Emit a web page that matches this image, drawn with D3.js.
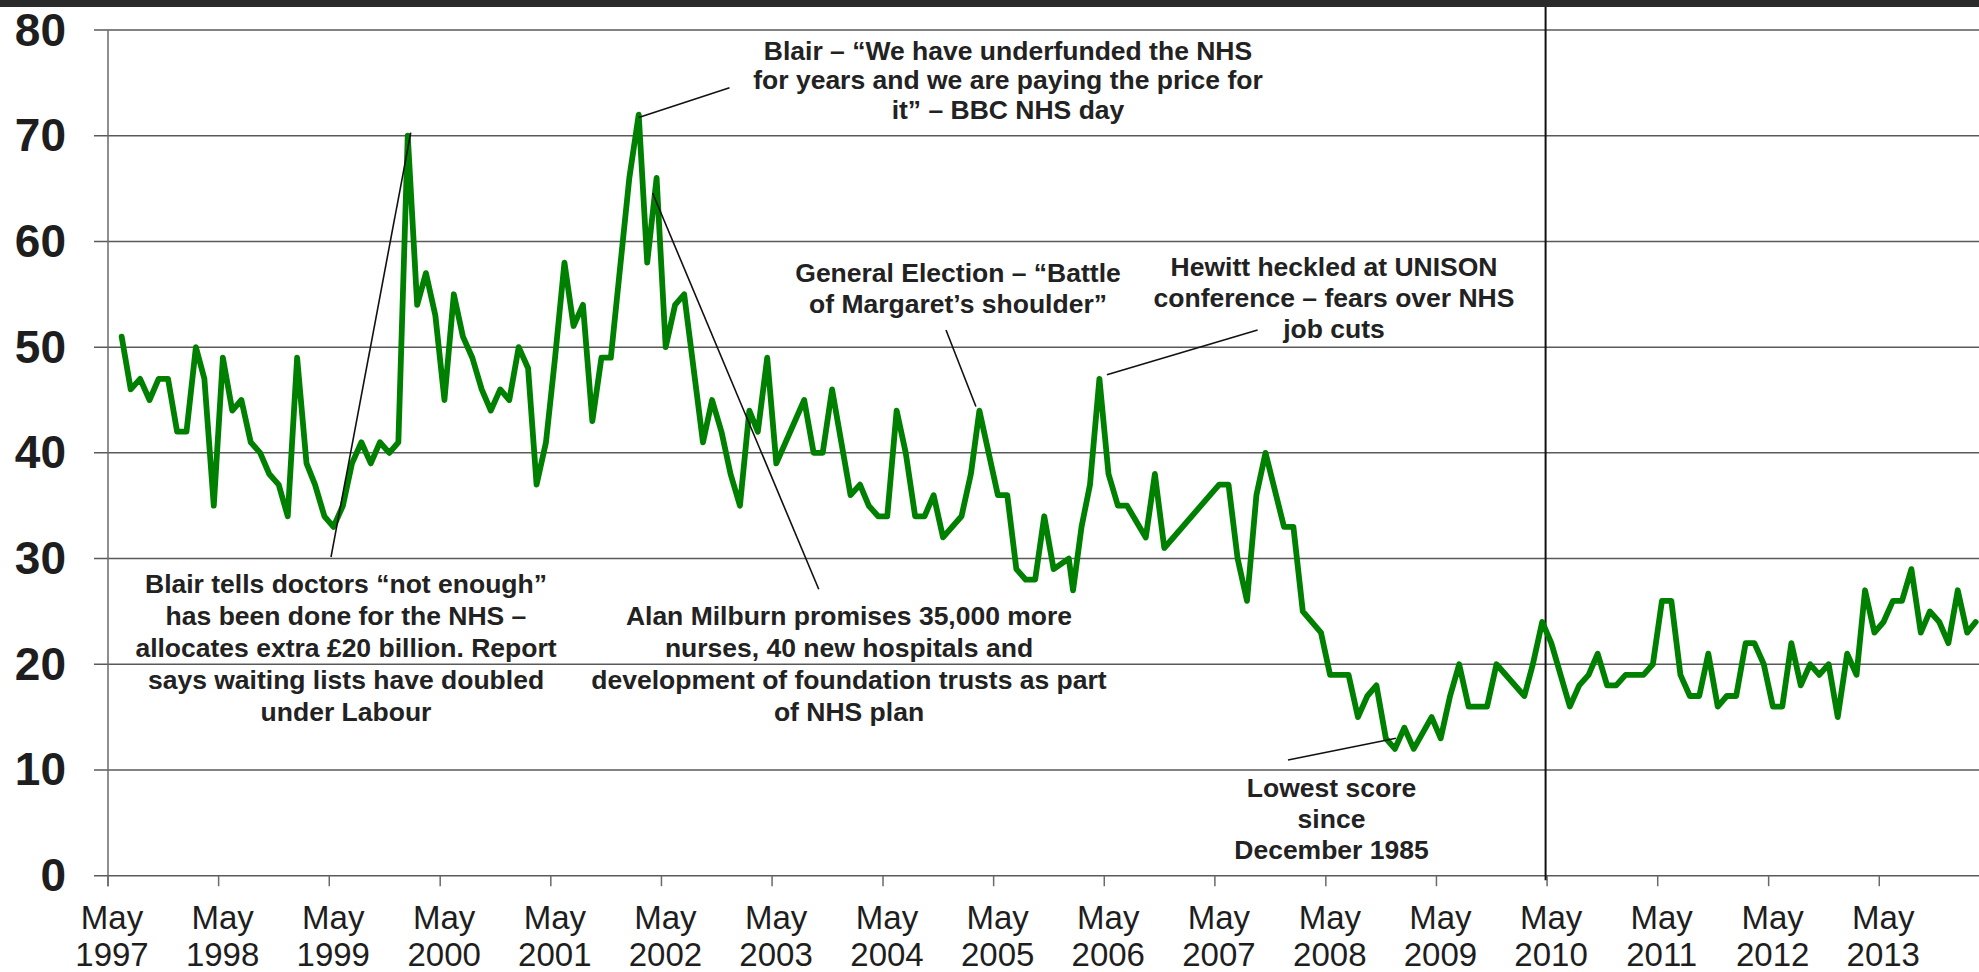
<!DOCTYPE html>
<html><head><meta charset="utf-8">
<script src="https://cdn.jsdelivr.net/npm/d3@7"></script>
<style>
html,body{margin:0;padding:0;background:#fff;}
svg{display:block;}
</style></head><body>
<svg id="chart" width="1979" height="972"></svg>
<script>
// ---------------- DATA ----------------
const pollDates = [
"1997-06","1997-07","1997-08","1997-09","1997-10","1997-11","1997-12",
"1998-01","1998-02","1998-03","1998-04","1998-05","1998-06","1998-07","1998-08","1998-09","1998-10","1998-11","1998-12",
"1999-01","1999-02","1999-03","1999-04","1999-05","1999-06","1999-07","1999-08","1999-09","1999-10","1999-11","1999-12",
"2000-01","2000-02","2000-03","2000-04","2000-05","2000-06","2000-07","2000-08","2000-09","2000-10","2000-11","2000-12",
"2001-01","2001-02","2001-03","2001-04","2001-05","2001-06","2001-07","2001-08","2001-09","2001-10","2001-11",
"2002-01","2002-02","2002-03","2002-04","2002-05","2002-06","2002-07","2002-09","2002-10","2002-11","2002-12",
"2003-01","2003-02","2003-03","2003-04","2003-05","2003-08","2003-09","2003-10","2003-11",
"2004-01","2004-02","2004-03","2004-04","2004-05","2004-06","2004-07","2004-08","2004-09","2004-10","2004-11",
"2005-01","2005-02","2005-03","2005-05","2005-06","2005-07","2005-08","2005-09","2005-10","2005-11",
"2006-01-04","2006-01-18","2006-02","2006-03","2006-04","2006-05","2006-06","2006-07","2006-09","2006-10","2006-11",
"2007-05","2007-06","2007-07","2007-08","2007-09","2007-10","2007-12",
"2008-01","2008-02","2008-04","2008-05","2008-06","2008-07","2008-08","2008-09","2008-10","2008-11","2008-12",
"2009-01","2009-02","2009-04","2009-05","2009-06","2009-07","2009-08","2009-09","2009-10","2009-11",
"2010-02","2010-03","2010-04","2010-05","2010-07","2010-08","2010-09","2010-10","2010-11","2010-12",
"2011-01","2011-02","2011-03","2011-04","2011-05","2011-06","2011-07","2011-08","2011-09","2011-10","2011-11","2011-12",
"2012-01","2012-02","2012-03","2012-04","2012-05","2012-06","2012-07","2012-08","2012-09","2012-10","2012-11","2012-12",
"2013-01","2013-02","2013-03","2013-04","2013-05","2013-06","2013-07","2013-08","2013-09","2013-10","2013-11","2013-12",
"2014-01","2014-02","2014-03"
];
const nhsScores = [
51,46,47,45,47,47,42,
42,50,47,35,49,44,45,41,40,38,37,34,
49,39,37,34,33,35,39,41,39,41,40,41,
70,54,57,53,45,55,51,49,46,44,46,45,
50,48,37,41,49,58,52,54,43,49,49,
66,72,58,66,50,54,55,41,45,42,38,
35,44,42,49,39,45,40,40,46,
36,37,35,34,34,44,40,34,34,36,32,
34,38,44,36,36,29,28,28,34,29,
30,27,33,37,47,38,35,35,32,38,31,
37,37,30,26,36,40,33,
33,25,23,19,19,19,15,17,18,13,12,
14,12,15,13,17,20,16,16,16,20,
17,20,24,22,16,18,19,21,18,18,
19,19,19,20,26,26,19,17,17,21,16,17,
17,22,22,20,16,16,22,18,20,19,20,15,
21,19,27,23,24,26,26,29,23,25,24,22,
27,23,24
];
const yTickValues = [0,10,20,30,40,50,60,70,80];
const xTickYears = [1997,1998,1999,2000,2001,2002,2003,2004,2005,2006,2007,2008,2009,2010,2011,2012,2013];
const xTickMonth = "May";
const electionDate = "2010-05-01";

const annotationTexts = {
  blairPrice: ["Blair – “We have underfunded the NHS","for years and we are paying the price for","it” – BBC NHS day"],
  milburn: ["Alan Milburn promises 35,000 more","nurses, 40 new hospitals and","development of foundation trusts as part","of NHS plan"],
  election: ["General Election – “Battle","of Margaret’s shoulder”"],
  hewitt: ["Hewitt heckled at UNISON","conference – fears over NHS","job cuts"],
  blairDoctors: ["Blair tells doctors “not enough”","has been done for the NHS –","allocates extra £20 billion. Report","says waiting lists have doubled","under Labour"],
  lowest: ["Lowest score","since","December 1985"]
};
// the poll each annotation points at
const annotationTargets = {
  blairPrice: ["2002-02", 72],
  milburn: ["2002-04", 66],
  election: ["2005-03", 44],
  hewitt: ["2006-04", 47],
  blairDoctors: ["2000-01", 70],
  lowest: ["2008-12", 12]
};

// ---------------- LAYOUT ----------------
const W = 1979, H = 972;
const FONT = "'Liberation Sans', Arial, Helvetica, sans-serif";
const svg = d3.select("#chart");
const parse = d3.timeParse("%Y-%m-%d");
const toDate = s => parse(s.length === 7 ? s + "-15" : s);

const x = d3.scaleTime()
  .domain([new Date(1997,4,1), new Date(2014,4,1)])
  .range([108, 1989.9]);
const y = d3.scaleLinear().domain([0,80]).range([875.7, 30]);

const data = pollDates.map((d,i) => ({date: toDate(d), value: nhsScores[i]}));

svg.append("rect").attr("x",0).attr("y",0).attr("width",W).attr("height",H).attr("fill","#fff");
// top dark strip
svg.append("rect").attr("x",0).attr("y",0).attr("width",W).attr("height",7).attr("fill","#2b2b2b");

// gridlines
svg.append("g").selectAll("line").data(yTickValues).join("line")
  .attr("x1",94).attr("x2",W)
  .attr("y1",d=>y(d)).attr("y2",d=>y(d))
  .attr("stroke","#5a5a5a").attr("stroke-width",1.5);

// y axis line
svg.append("line").attr("x1",x.range()[0]).attr("x2",x.range()[0])
  .attr("y1",y(80)).attr("y2",y(0)+10.5)
  .attr("stroke","#6a6a6a").attr("stroke-width",1.5);

// x ticks
const tickDates = xTickYears.map(yr => new Date(yr,4,1));
svg.append("g").selectAll("line").data(tickDates).join("line")
  .attr("x1",d=>x(d)).attr("x2",d=>x(d))
  .attr("y1",y(0)).attr("y2",y(0)+10.5)
  .attr("stroke","#6a6a6a").attr("stroke-width",1.5);

// y labels
svg.append("g").selectAll("text").data(yTickValues).join("text")
  .attr("x",66).attr("y",d=>y(d)+15.5)
  .attr("text-anchor","end")
  .attr("font-family",FONT).attr("font-weight","bold").attr("font-size",46)
  .attr("fill","#1e1e1e")
  .text(d=>d);

// x labels
const xl = svg.append("g").selectAll("g").data(tickDates).join("g");
xl.append("text").attr("x",d=>x(d)+4).attr("y",929)
  .attr("text-anchor","middle").attr("font-family",FONT).attr("font-size",33).attr("fill","#1e1e1e")
  .text(xTickMonth);
xl.append("text").attr("x",d=>x(d)+4).attr("y",966)
  .attr("text-anchor","middle").attr("font-family",FONT).attr("font-size",33).attr("fill","#1e1e1e")
  .text(d=>d.getFullYear());

// election reference line
const ex = x(parse(electionDate)) - 1.5;
svg.append("line").attr("x1",ex).attr("x2",ex).attr("y1",7).attr("y2",y(0)+4.5)
  .attr("stroke","#111").attr("stroke-width",2);

// data line
svg.append("defs").append("clipPath").attr("id","clip")
  .append("rect").attr("x",0).attr("y",0).attr("width",W).attr("height",H);
svg.append("path").datum(data)
  .attr("clip-path","url(#clip)")
  .attr("fill","none").attr("stroke","#008000").attr("stroke-width",5.8)
  .attr("stroke-linejoin","round").attr("stroke-linecap","round")
  .attr("d", d3.line().x(d=>x(d.date)).y(d=>y(d.value)));

// annotations: text block placement and leader end points
const annLayout = {
  blairPrice:   {cx:1008,  base:60,    lh:29.3, from:[729.5,87.7],  off:[0,3]},
  milburn:      {cx:849,   base:625,   lh:32,   from:[818.75,589.3],off:[-4,15]},
  election:     {cx:958,   base:281.7, lh:31.6, from:[946,330],     off:[-3.5,-4]},
  hewitt:       {cx:1334,  base:276,   lh:31.2, from:[1257.6,330],  off:[7.5,-4]},
  blairDoctors: {cx:346,   base:593.3, lh:32,   from:[331,557],     off:[3,-3]},
  lowest:       {cx:1331.5,base:796.7, lh:31.3, from:[1288,760],    off:[1,-10.6]}
};
Object.keys(annotationTexts).forEach(k => {
  const L = annLayout[k];
  const t = annotationTargets[k];
  const px = x(toDate(t[0])) + L.off[0];
  const py = y(t[1]) + L.off[1];
  svg.append("line").attr("x1",L.from[0]).attr("y1",L.from[1]).attr("x2",px).attr("y2",py)
    .attr("stroke","#111").attr("stroke-width",1.6);
  svg.append("g").selectAll("text").data(annotationTexts[k]).join("text")
    .attr("x",L.cx).attr("y",(d,i)=>L.base + i*L.lh)
    .attr("text-anchor","middle").attr("font-family",FONT).attr("font-weight","bold")
    .attr("font-size",26.5).attr("fill","#222")
    .text(d=>d);
});
</script>
</body></html>
